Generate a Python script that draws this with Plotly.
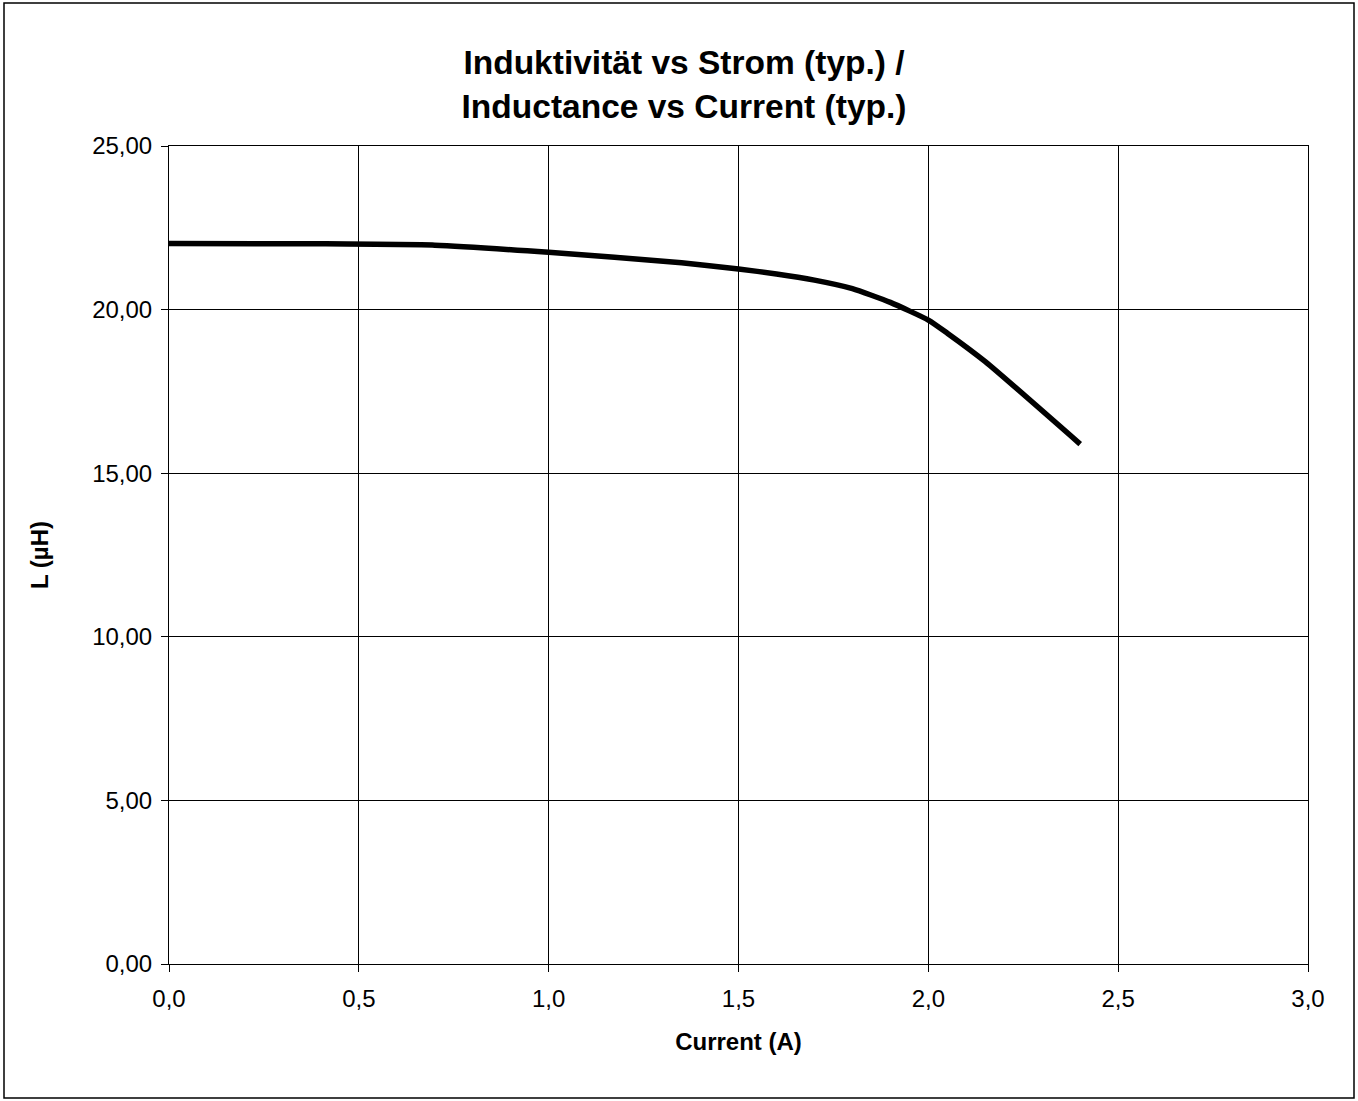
import plotly.graph_objects as go

# Data
current_a = [0.0, 0.4, 0.7, 1.0, 1.35, 1.5, 1.6, 1.7, 1.8, 1.9, 2.0, 2.05, 2.15, 2.4]
inductance_uh = [22.02, 22.01, 21.97, 21.75, 21.43, 21.24, 21.09, 20.9, 20.64, 20.22, 19.68, 19.28, 18.41, 15.89]

x_ticks = [0.0, 0.5, 1.0, 1.5, 2.0, 2.5, 3.0]
x_tick_labels = ["0,0", "0,5", "1,0", "1,5", "2,0", "2,5", "3,0"]
y_ticks = [0, 5, 10, 15, 20, 25]
y_tick_labels = ["0,00", "5,00", "10,00", "15,00", "20,00", "25,00"]

title_text = "Induktivität vs Strom (typ.) /<br>Inductance vs Current (typ.)"
x_title = "Current (A)"
y_title = "L (µH)"

W, H = 1358, 1101
ML, MR, MT, MB = 169, 50, 146, 137
pw = W - ML - MR
ph = H - MT - MB

FONT = "Liberation Sans, Arial, sans-serif"

fig = go.Figure()
fig.add_trace(go.Scatter(
    x=current_a, y=inductance_uh, mode="lines",
    line=dict(color="black", width=5.5, shape="spline", smoothing=0.5),
    showlegend=False, hoverinfo="x+y",
))

fig.update_layout(
    width=W, height=H,
    margin=dict(l=ML, r=MR, t=MT, b=MB, pad=0),
    paper_bgcolor="white", plot_bgcolor="white",
    font=dict(family=FONT, color="black", size=24),
    title=dict(text="<b>" + title_text + "</b>", x=684 / W, xref="container", xanchor="center",
               y=(H - 74) / H, yref="container", yanchor="middle",
               font=dict(family=FONT, size=33.5, color="black")),
    xaxis=dict(
        range=[0, 3], tickvals=x_ticks, ticktext=x_tick_labels,
        showgrid=True, gridcolor="black", gridwidth=1,
        showline=True, linecolor="black", linewidth=1, mirror=True,
        ticks="outside", ticklen=7, tickcolor="black", tickwidth=1,
        ticklabelstandoff=6,
        zeroline=False, tickfont=dict(size=24, family=FONT),
        title=dict(text="<b>" + x_title + "</b>", font=dict(size=24, family=FONT), standoff=22),
        fixedrange=True,
    ),
    yaxis=dict(
        range=[0, 25], tickvals=y_ticks, ticktext=y_tick_labels,
        showgrid=True, gridcolor="black", gridwidth=1,
        showline=True, linecolor="black", linewidth=1, mirror=True,
        ticks="outside", ticklen=7, tickcolor="black", tickwidth=1,
        ticklabelstandoff=4,
        zeroline=False, tickfont=dict(size=24, family=FONT),
        title=dict(text="<b>" + y_title + "</b>", font=dict(size=24, family=FONT), standoff=36),
        fixedrange=True,
    ),
    shapes=[dict(
        type="rect", xref="paper", yref="paper",
        x0=(4 - ML) / pw, x1=(1354 - ML) / pw,
        y0=(H - MB - 1098) / ph, y1=(H - MB - 3) / ph,
        line=dict(color="black", width=1.5), fillcolor="rgba(0,0,0,0)", layer="below",
    )],
)

fig.write_html("out.html", config={"displayModeBar": False},
               post_script="document.body.style.margin='0';document.body.style.overflow='hidden';")
